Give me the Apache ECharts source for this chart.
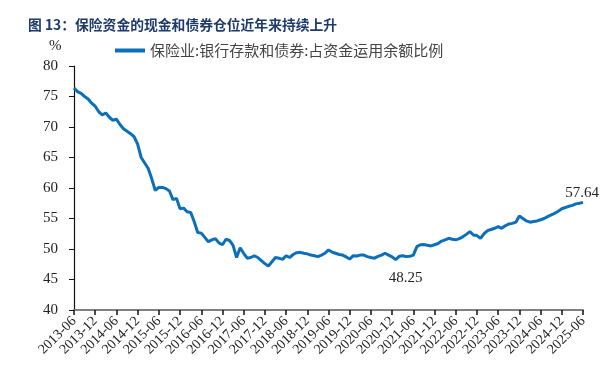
<!DOCTYPE html>
<html>
<head>
<meta charset="utf-8">
<script src="https://cdn.jsdelivr.net/npm/echarts@6/dist/echarts.min.js"></script>
<style>html,body{margin:0;padding:0;background:#fff;}#c{width:604px;height:380px;}</style>
</head>
<body>
<div id="c"></div>
<script>
var titleText = '图 13：保险资金的现金和债券仓位近年来持续上升';
var seriesName = '保险业:银行存款和债券:占资金运用余额比例';
var startYear = 2013, startMonth = 6, monthCount = 145;
var yTicks = [40, 45, 50, 55, 60, 65, 70, 75, 80];
var ratio = [
76.4,75.8,75.5,75.0,74.6,73.9,73.4,72.5,72.0,72.3,71.6,71.1,
71.3,70.4,69.7,69.3,68.9,68.4,67.2,65.0,64.1,63.2,61.5,59.6,
60.1,60.1,59.9,59.5,58.1,58.3,56.6,56.7,56.1,56.0,54.5,52.7,
52.6,51.9,51.2,51.5,51.7,51.0,50.7,51.6,51.4,50.6,48.6,50.2,
49.3,48.5,48.6,48.9,48.6,48.1,47.6,47.2,47.9,48.6,48.5,48.3,
48.9,48.6,49.1,49.4,49.45,49.3,49.2,49.0,48.9,48.75,49.0,49.3,
49.85,49.5,49.3,49.1,49.0,48.7,48.35,48.9,48.85,49.0,49.0,48.75,
48.6,48.5,48.8,49.0,49.3,49.0,48.7,48.25,48.8,48.9,48.75,48.8,
49.0,50.4,50.7,50.75,50.6,50.5,50.7,50.9,51.3,51.5,51.75,51.6,
51.5,51.7,52.0,52.4,52.85,52.3,52.2,51.75,52.5,53.0,53.2,53.4,
53.65,53.4,53.8,54.1,54.2,54.4,55.4,55.0,54.6,54.4,54.5,54.6,
54.8,55.0,55.3,55.6,55.85,56.2,56.6,56.8,57.0,57.15,57.4,57.5,
57.64
];
var minLabelIndex = 91;
var lastIndex = 144;

var months = [];
for (var i = 0; i < monthCount; i++) {
  var m = startMonth - 1 + i;
  var y = startYear + Math.floor(m / 12);
  var mm = (m % 12) + 1;
  months.push(y + '-' + (mm < 10 ? '0' + mm : '' + mm));
}

var seriesData = ratio.map(function (v, idx) {
  if (idx === minLabelIndex) {
    return {value: v, label: {show: true, position: [10, 18], align: 'center', verticalAlign: 'middle'}};
  }
  if (idx === lastIndex) {
    return {value: v, label: {show: true, position: [-1, -9], align: 'center', verticalAlign: 'middle'}};
  }
  return v;
});

var chart = echarts.init(document.getElementById('c'), null, {renderer: 'canvas'});
chart.setOption({
  animation: false,
  backgroundColor: '#fff',
  title: {
    text: titleText, left: 23, top: 13,
    textStyle: {fontFamily: 'Noto Sans CJK SC', fontSize: 13.8, fontWeight: 'bold', color: '#1d3a6b'}
  },
  graphic: [{
    type: 'text', left: 49, top: 39,
    style: {text: '%', font: '15px "Liberation Serif"', fill: '#222'}
  }],
  legend: {
    left: 110, top: 38, itemWidth: 30, itemHeight: 4, icon: 'rect',
    textStyle: {fontFamily: 'Noto Sans CJK SC', fontSize: 15, color: '#444'},
    data: [seriesName]
  },
  grid: {left: 74, right: 21, top: 66, bottom: 70, containLabel: false},
  xAxis: {
    type: 'category', data: months, boundaryGap: false,
    axisLine: {lineStyle: {color: '#808080', width: 2}},
    axisTick: {interval: 5, length: 5, lineStyle: {color: '#111', width: 1.5}},
    axisLabel: {interval: 5, rotate: 45, margin: 9, fontFamily: 'Liberation Serif', fontSize: 14, color: '#222'},
    splitLine: {show: false}
  },
  yAxis: {
    type: 'value', min: yTicks[0], max: yTicks[yTicks.length - 1], interval: yTicks[1] - yTicks[0],
    axisLine: {show: true, lineStyle: {color: '#111', width: 1.2}},
    axisTick: {show: true, length: 5, lineStyle: {color: '#111'}},
    axisLabel: {margin: 16, fontFamily: 'Liberation Serif', fontSize: 15, color: '#222'},
    splitLine: {show: false}
  },
  series: [{
    name: seriesName, type: 'line', data: seriesData,
    symbol: 'circle', symbolSize: 0, showSymbol: true,
    lineStyle: {color: '#0b6fbb', width: 3},
    itemStyle: {color: '#0b6fbb'},
    label: {fontFamily: 'Liberation Serif', fontSize: 15, color: '#222'},
    labelLayout: {hideOverlap: false}
  }]
});
</script>
</body>
</html>
